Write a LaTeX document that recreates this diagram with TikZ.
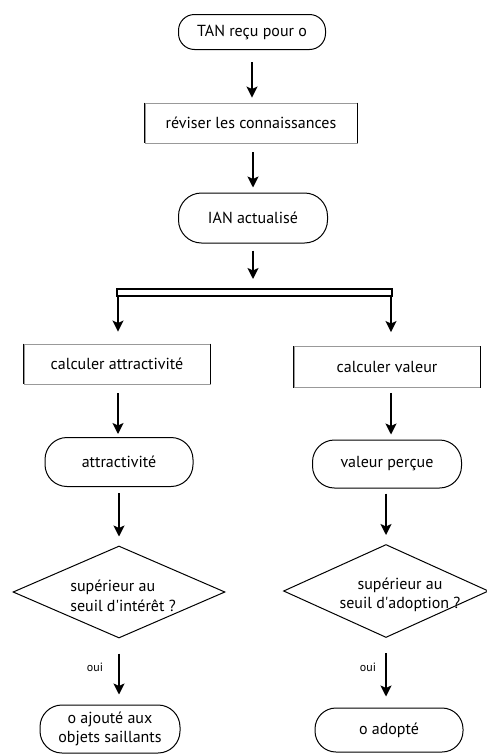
\documentclass[tikz,border=0pt]{standalone}
\usepackage{fontspec}
\setmainfont{PT Sans}
\usetikzlibrary{arrows.meta,shapes.geometric}
\begin{document}
\begin{tikzpicture}[x=1pt,y=-1pt,
  every node/.style={font=\fontsize{16}{19.5}\selectfont},
  stadium/.style={draw, line width=1pt, rounded corners=20pt, inner sep=0pt, align=center},
  procbox/.style={draw=gray!80, line width=0.9pt, inner sep=0pt},
  boxside/.style={line width=1.8pt},
  decision/.style={draw, diamond, line width=1pt, inner sep=-30pt, align=center},
  flow/.style={line width=1.7pt, -{Stealth[length=11pt,width=11pt,inset=2.5pt]}},
  branch/.style={line width=1.7pt},
  yes/.style={font=\fontsize{12}{14}\selectfont}
]
\useasboundingbox (0,0) rectangle (487,755);

% start and knowledge update
\node[stadium, minimum width=147pt, minimum height=35pt, rounded corners=16pt] (tan) at (252,32) {TAN reçu pour o};
\node[procbox, minimum width=212pt, minimum height=40pt] (rev) at (251,123) {réviser les connaissances};
\node[stadium, minimum width=149pt, minimum height=50pt, rounded corners=23pt] (ian) at (253,218) {IAN actualisé};

% two parallel branches
\node[procbox, minimum width=186pt, minimum height=40pt] (calcA) at (117,364) {calculer attractivité};
\node[procbox, minimum width=186pt, minimum height=41pt] (calcV) at (387,367) {calculer valeur};
\node[stadium, minimum width=148pt, minimum height=49pt, rounded corners=22pt] (attr) at (119,462) {attractivité};
\node[stadium, minimum width=149pt, minimum height=48pt, rounded corners=22pt] (val) at (387,464) {valeur perçue};
\node[decision, minimum width=212pt, minimum height=92pt] (dA) at (119,592) {};
\node[align=left] (dAtxt) at (123,596) {supérieur au\\seuil d\textquotesingle intérêt ?};
\node[decision, minimum width=205pt, minimum height=93pt] (dV) at (386,591) {};
\node[align=center] (dVtxt) at (400,595) {supérieur au\\seuil d\textquotesingle adoption ?};
\node[stadium, minimum width=140pt, minimum height=48pt, rounded corners=22pt] (aj) at (110,729) {o ajouté aux\\objets saillants};
\node[stadium, minimum width=148pt, minimum height=44pt, rounded corners=21pt] (ad) at (389,730) {o adopté};

% thick sides of the process boxes
\foreach \b in {rev,calcA,calcV}{
  \draw[boxside] (\b.north west) -- (\b.south west);
  \draw[boxside] (\b.north east) -- (\b.south east);
}

% parallel split bar
\coordinate (sTL) at (117,289);
\coordinate (sBR) at (392,296);
\coordinate (sTop) at (253,289);
\coordinate (sL) at (118,296);
\coordinate (sR) at (391,296);
\draw[branch] (sTL) rectangle (sBR);

% connectors
\draw[flow, shorten <=12pt, shorten >=5pt] (tan.south) -- (rev.north -| tan.south);
\draw[flow, shorten <=9pt, shorten >=5pt] (rev.south -| ian.north) -- (ian.north);
\draw[flow, shorten <=7pt, shorten >=10pt] (ian.south) -- (sTop);
\draw[flow, shorten >=12pt] (sL) -- (sL |- calcA.north);
\draw[flow, shorten >=14pt] (sR) -- (sR |- calcV.north);
\draw[flow, shorten <=9pt, shorten >=3pt] (calcA.south -| sL) -- (attr.north -| sL);
\draw[flow, shorten <=5pt, shorten >=5pt] (calcV.south -| sR) -- (val.north -| sR);
\draw[flow, shorten <=6pt, shorten >=9pt] (attr.south -| dA.north) -- (dA.north);
\draw[flow, shorten <=5pt, shorten >=9pt] (val.south -| dV.north) -- (dV.north);
\draw[flow, shorten <=15pt, shorten >=10pt] (dA.south) -- (aj.north -| dA.south);
\draw[flow, shorten <=15pt, shorten >=11pt] (dV.south) -- (ad.north -| dV.south);

% branch labels
\node[yes] (ouiA) at (95,667) {oui};
\node[yes] (ouiV) at (368,667) {oui};
\end{tikzpicture}
\end{document}
